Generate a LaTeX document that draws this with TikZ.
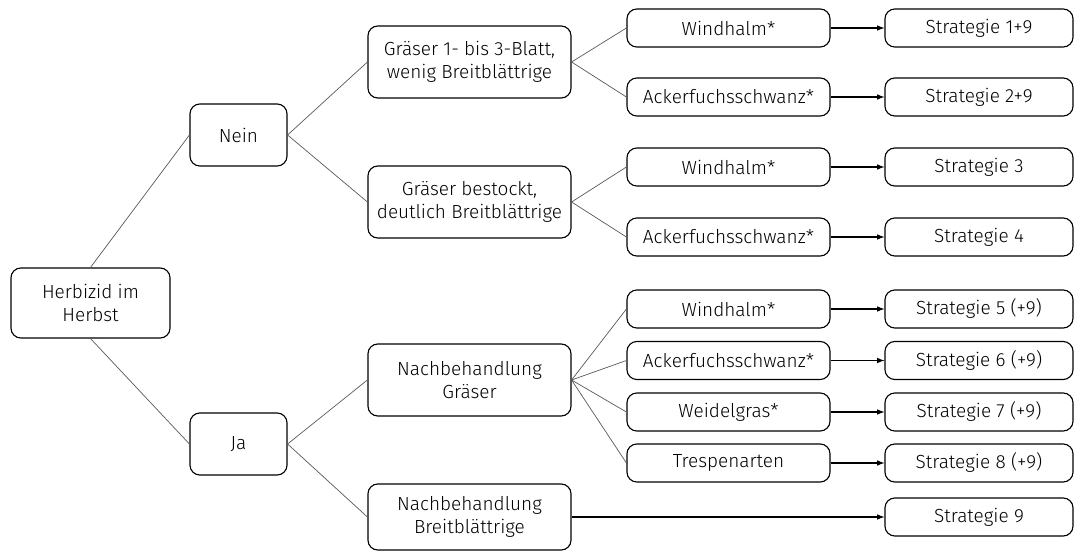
\documentclass[tikz,border=0pt]{standalone}
\usepackage{fontspec}
\setmainfont{Fira Sans Light}
\begin{document}
\begin{tikzpicture}[x=0.025cm, y=-0.025cm, >=latex]
            \tikzstyle{box} = [draw, thick, rounded corners=7pt, align=center, inner sep=1pt, font=\fontsize{13.5}{16}\selectfont]
            \tikzstyle{root} = [box, minimum width=3.975cm, minimum height=1.75cm]
            \tikzstyle{answer} = [box, minimum width=2.425cm, minimum height=1.55cm]
            \tikzstyle{weed} = [box, minimum width=5.075cm, minimum height=1.8cm]
            \tikzstyle{grass} = [box, minimum width=5.075cm, minimum height=0.95cm]
            \tikzstyle{strat} = [box, minimum width=4.7cm, minimum height=0.95cm]
            \tikzstyle{branch} = [draw=black!65, line width=0.5pt]
            \tikzstyle{lead} = [draw, thick, ->]
            \useasboundingbox (0, 0) rectangle (1081, 551);

            \node[root] (herbst) at (90.5, 303) {Herbizid im\\Herbst};
            \node[answer] (nein) at (238.5, 135) {Nein};
            \node[answer] (ja) at (238.5, 444) {Ja};

            \node[weed] (blatt) at (469.5, 62) {Gräser 1- bis 3-Blatt,\\wenig Breitblättrige};
            \node[weed] (bestockt) at (469.5, 202) {Gräser bestockt,\\deutlich Breitblättrige};
            \node[weed] (nbgraeser) at (469.5, 380) {Nachbehandlung\\Gräser};
            \node[weed, minimum height=1.65cm] (nbbreit) at (469.5, 517) {Nachbehandlung\\Breitblättrige};

            \node[grass] (wind1) at (728.5, 28) {Windhalm*};
            \node[grass] (acker1) at (728.5, 97) {Ackerfuchsschwanz*};
            \node[grass] (wind2) at (728.5, 167) {Windhalm*};
            \node[grass] (acker2) at (728.5, 237) {Ackerfuchsschwanz*};
            \node[grass] (wind3) at (728.5, 309) {Windhalm*};
            \node[grass] (acker3) at (728.5, 360.5) {Ackerfuchsschwanz*};
            \node[grass] (weidel) at (728.5, 412) {Weidelgras*};
            \node[grass] (trespe) at (728.5, 463) {Trespenarten};

            \node[strat] (s1) at (979, 28) {Strategie 1+9};
            \node[strat] (s2) at (979, 97) {Strategie 2+9};
            \node[strat] (s3) at (979, 167) {Strategie 3};
            \node[strat] (s4) at (979, 237) {Strategie 4};
            \node[strat] (s5) at (979, 309) {Strategie 5 (+9)};
            \node[strat] (s6) at (979, 360.5) {Strategie 6 (+9)};
            \node[strat] (s7) at (979, 412) {Strategie 7 (+9)};
            \node[strat] (s8) at (979, 463) {Strategie 8 (+9)};
            \node[strat] (s9) at (979, 517) {Strategie 9};

            % tree branches
            \draw[branch] (herbst.north) -- (nein.west);
            \draw[branch] (herbst.south) -- (ja.west);
            \draw[branch] (nein.east) -- (blatt.west);
            \draw[branch] (nein.east) -- (bestockt.west);
            \draw[branch] (ja.east) -- (nbgraeser.west);
            \draw[branch] (ja.east) -- (nbbreit.west);
            \draw[branch] (blatt.east) -- (wind1.west);
            \draw[branch] (blatt.east) -- (acker1.west);
            \draw[branch] (bestockt.east) -- (wind2.west);
            \draw[branch] (bestockt.east) -- (acker2.west);
            \draw[branch] (nbgraeser.east) -- (wind3.west);
            \draw[branch] (nbgraeser.east) -- (acker3.west);
            \draw[branch] (nbgraeser.east) -- (weidel.west);
            \draw[branch] (nbgraeser.east) -- (trespe.west);

            % to the strategies
            \draw[lead] (wind1) -- (s1);
            \draw[lead] (acker1) -- (s2);
            \draw[lead] (wind2) -- (s3);
            \draw[lead] (acker2) -- (s4);
            \draw[lead] (wind3) -- (s5);
            \draw[lead] (acker3) -- (s6);
            \draw[lead] (weidel) -- (s7);
            \draw[lead] (trespe) -- (s8);
            \draw[lead] (nbbreit) -- (s9);
        \end{tikzpicture}
\end{document}
